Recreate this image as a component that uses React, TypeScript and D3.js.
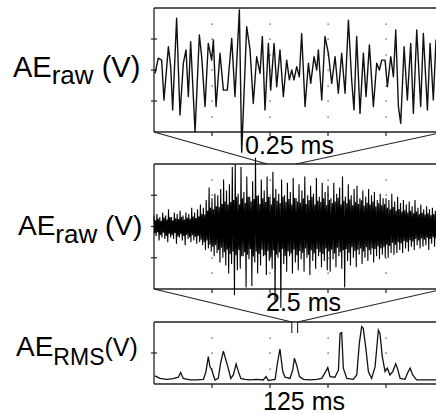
import React from 'react';
import * as d3 from 'd3';

// ---- data ----
// top panel: raw AE over 0.25 ms (time in µs)
const topTimesUs = [0.9, 3.7, 6.6, 8.6, 12.4, 14.4, 16.1, 19.5, 22.4, 25.3, 27.6, 29.6, 31.6, 35.4, 39.1, 41.1, 44.0, 46.8, 49.7, 51.2, 53.5, 56.9, 59.8, 63.2, 67.0, 69.8, 73.6, 75.6, 79.9, 82.8, 85.6, 88.5, 91.4, 93.4, 95.7, 98.6, 100.6, 103.5, 105.8, 108.6, 111.5, 114.4, 116.7, 118.7, 120.7, 123.0, 125.3, 127.3, 130.2, 133.1, 135.1, 138.0, 140.3, 141.7, 144.6, 147.4, 150.3, 153.2, 156.1, 158.9, 161.8, 164.7, 167.6, 170.4, 172.4, 174.7, 177.6, 180.5, 182.8, 185.7, 189.1, 192.0, 194.3, 196.3, 199.2, 201.2, 204.1, 206.4, 208.4, 210.7, 212.7, 215.6, 218.4, 221.3, 223.6, 226.5, 229.9, 232.2, 235.7, 238.0, 240.8, 243.1, 246.0, 249.0];
const topValues = [-0.11, 0.38, 0.32, -0.97, 0.75, 0.11, -1.29, 1.67, -1.45, 0.22, 0.65, -0.86, 0.91, -1.99, 1.13, 0.43, -1.18, 0.86, 0.32, 0.97, -1.18, 0.54, -0.65, -0.65, 1.02, -0.86, 1.94, -2.65, 1.40, 0.65, -1.08, 0.43, -0.11, 1.08, -1.29, 0.86, -0.65, 0.86, -0.54, 0.65, -0.86, 0.32, -0.32, 0.0, -0.32, 0.11, -0.22, 1.18, -1.18, 0.22, -0.43, 0.43, 0.0, 0.65, -0.97, 1.08, 0.54, -0.43, 0.43, -0.75, 0.54, -0.75, 1.61, -0.32, -1.29, 1.08, -1.40, 0.54, -0.86, 0.81, -1.18, 0.22, 0.0, 0.32, 0.32, -0.54, 0.43, -0.22, 1.29, -1.18, -1.72, 0.75, -0.97, 0.86, -1.40, 1.29, -1.18, 1.18, -1.29, 0.86, -0.97, 0.97, -0.60, 0.70];

// middle panel: raw AE over 2.5 ms, per 0.025 ms bin: outer max/min and inner swing
const midMax = [0.35, 0.40, 0.30, 0.45, 0.35, 0.55, 0.30, 0.45, 0.40, 0.50, 0.35, 0.45, 0.40, 0.60, 0.45, 0.55, 0.70, 0.60, 0.85, 1.25, 0.90, 1.05, 1.00, 1.20, 1.50, 1.15, 1.35, 1.90, 2.00, 1.05, 1.90, 1.10, 1.60, 0.95, 1.45, 2.20, 1.00, 1.50, 1.15, 1.60, 0.95, 1.75, 1.20, 1.05, 1.50, 1.00, 1.40, 1.10, 1.55, 0.90, 1.35, 1.15, 1.60, 1.00, 1.30, 1.05, 1.55, 0.95, 1.40, 1.10, 1.30, 0.90, 1.40, 1.05, 1.25, 1.60, 0.95, 1.35, 1.00, 1.20, 1.30, 0.90, 1.15, 0.95, 1.20, 1.00, 1.10, 0.85, 1.05, 0.90, 0.90, 0.85, 1.05, 0.80, 0.95, 0.75, 0.85, 0.70, 0.80, 0.65, 0.85, 0.60, 0.70, 0.55, 0.65, 0.55, 0.60, 0.50, 0.60, 0.50];
const midMin = [-0.30, -0.45, -0.35, -0.40, -0.50, -0.35, -0.40, -0.55, -0.35, -0.45, -0.60, -0.40, -0.50, -0.45, -0.55, -0.50, -0.60, -0.75, -0.70, -0.80, -0.95, -0.85, -1.15, -1.00, -1.25, -1.50, -1.20, -2.20, -1.40, -1.35, -0.95, -1.95, -1.05, -1.90, -1.15, -1.50, -1.25, -0.95, -1.55, -1.10, -1.35, -2.40, -1.00, -2.60, -1.20, -1.45, -0.95, -1.50, -1.15, -1.40, -1.05, -1.45, -1.00, -1.55, -1.10, -1.35, -0.95, -1.30, -1.10, -1.40, -1.45, -1.05, -1.30, -0.95, -1.35, -1.95, -1.10, -1.25, -1.00, -1.30, -0.90, -1.20, -1.00, -1.10, -0.90, -1.15, -0.95, -1.05, -0.90, -1.00, -1.00, -0.85, -0.90, -0.85, -0.75, -0.85, -0.70, -0.80, -0.65, -0.75, -0.60, -0.70, -0.65, -0.60, -0.75, -0.55, -0.65, -0.55, -0.60, -0.50];
const midInnerHi = [0.20, 0.25, 0.18, 0.28, 0.22, 0.30, 0.20, 0.26, 0.24, 0.30, 0.22, 0.28, 0.25, 0.32, 0.27, 0.33, 0.40, 0.38, 0.50, 0.60, 0.55, 0.65, 0.62, 0.72, 0.80, 0.70, 0.78, 0.85, 0.95, 0.70, 0.90, 0.75, 0.95, 0.80, 0.88, 0.98, 0.72, 0.90, 0.78, 0.95, 0.70, 0.92, 0.82, 0.75, 0.95, 0.78, 0.88, 0.70, 0.92, 0.80, 0.76, 0.90, 0.72, 0.85, 0.95, 0.70, 0.82, 0.78, 0.90, 0.68, 0.85, 0.75, 0.80, 0.92, 0.70, 0.82, 0.74, 0.86, 0.68, 0.78, 0.72, 0.84, 0.66, 0.76, 0.70, 0.80, 0.64, 0.74, 0.68, 0.72, 0.60, 0.55, 0.62, 0.50, 0.56, 0.48, 0.52, 0.45, 0.50, 0.42, 0.48, 0.40, 0.44, 0.38, 0.42, 0.36, 0.40, 0.34, 0.38, 0.33];
const midInnerLo = [-0.22, -0.18, -0.27, -0.20, -0.30, -0.24, -0.28, -0.21, -0.32, -0.25, -0.30, -0.26, -0.34, -0.28, -0.33, -0.30, -0.42, -0.50, -0.45, -0.58, -0.65, -0.60, -0.75, -0.68, -0.82, -0.74, -0.88, -0.80, -0.92, -0.75, -0.95, -0.82, -0.90, -0.72, -0.96, -0.80, -0.88, -0.74, -0.92, -0.78, -0.98, -0.76, -0.90, -0.82, -0.72, -0.94, -0.80, -0.86, -0.74, -0.92, -0.78, -0.84, -0.70, -0.90, -0.76, -0.86, -0.72, -0.82, -0.88, -0.70, -0.80, -0.74, -0.86, -0.68, -0.82, -0.76, -0.72, -0.84, -0.66, -0.78, -0.74, -0.70, -0.80, -0.66, -0.76, -0.70, -0.72, -0.64, -0.70, -0.66, -0.58, -0.62, -0.52, -0.58, -0.50, -0.54, -0.46, -0.50, -0.44, -0.48, -0.40, -0.45, -0.38, -0.42, -0.36, -0.40, -0.34, -0.38, -0.33, -0.35];

// bottom panel: RMS over 125 ms
const rmsTimesMs = [0.4, 2.6, 5.5, 8.3, 10.5, 11.5, 12.6, 15.5, 18.4, 21.3, 22.4, 23.4, 24.1, 24.9, 26.3, 27.7, 28.7, 29.9, 31.0, 32.0, 33.1, 34.2, 35.4, 36.4, 37.4, 39.2, 41.4, 44.3, 47.1, 48.3, 49.3, 52.2, 53.2, 54.3, 55.5, 56.5, 58.6, 59.8, 60.5, 61.5, 62.7, 64.4, 67.3, 70.1, 72.3, 74.0, 74.9, 75.9, 78.0, 79.5, 80.2, 80.9, 81.6, 83.1, 85.9, 87.4, 88.5, 89.5, 90.2, 91.4, 92.4, 93.8, 95.3, 96.7, 97.4, 98.4, 99.6, 100.6, 101.7, 102.9, 104.2, 104.9, 106.1, 108.2, 109.2, 110.4, 111.5, 113.2, 117.5, 121.6, 125.0];
const rmsValues = [0.26, 0.18, 0.15, 0.17, 0.22, 0.37, 0.18, 0.13, 0.13, 0.15, 0.40, 0.88, 0.56, 0.45, 0.13, 0.18, 0.67, 1.06, 0.77, 0.51, 0.18, 0.29, 0.65, 0.40, 0.18, 0.15, 0.13, 0.15, 0.13, 0.24, 0.11, 0.15, 0.67, 1.13, 0.40, 0.22, 0.18, 0.45, 0.83, 0.61, 0.24, 0.15, 0.13, 0.15, 0.18, 0.40, 0.53, 0.24, 0.22, 0.45, 1.63, 1.66, 0.51, 0.18, 0.15, 0.29, 1.31, 1.85, 1.80, 1.10, 0.40, 0.18, 0.56, 1.74, 1.63, 0.88, 0.40, 0.51, 0.29, 0.40, 0.65, 0.51, 0.18, 0.15, 0.34, 0.51, 0.29, 0.13, 0.13, 0.13, 0.16];

// zoom windows (start, end)
const topWindowInMidMs = [0.975, 1.225];
const midWindowInRmsMs = [59.4, 61.9];

const labelTexts = [
  { main: 'AE', sub: 'raw', unit: ' (V)' },
  { main: 'AE', sub: 'raw', unit: ' (V)' },
  { main: 'AE', sub: 'RMS', unit: '(V)' },
];
const spanTexts = ['0.25 ms', '2.5 ms', '125 ms'];

const FONT = "'Liberation Sans', Arial, Helvetica, sans-serif";

export default function App() {
  const X0 = 154, X1 = 444;
  const topP = { t: 8, b: 132 };
  const midP = { t: 164, b: 289 };
  const botP = { t: 322, b: 384 };

  const xTop = d3.scaleLinear().domain([0, 250]).range([X0, X1]);
  const xMid = d3.scaleLinear().domain([0, 2.5]).range([X0, X1]);
  const xBot = d3.scaleLinear().domain([0, 125]).range([X0, X1]);
  const yTop = d3.scaleLinear().domain([-2, 2]).range([topP.b, topP.t]);
  const yMid = d3.scaleLinear().domain([-2, 2]).range([midP.b, midP.t]);
  const yBot = d3.scaleLinear().domain([0, 2]).range([botP.b, botP.t]);

  const topLine = d3.line<number>().x((_, i) => xTop(topTimesUs[i])).y((d) => yTop(d));
  const midPts: [number, number][] = [];
  const bin = 0.025;
  midMax.forEach((mx, i) => {
    const t = i * bin;
    midPts.push([t, mx]);
    midPts.push([t + bin * 0.25, midInnerLo[i]]);
    midPts.push([t + bin * 0.5, midInnerHi[i]]);
    midPts.push([t + bin * 0.75, midMin[i]]);
  });
  const midLine = d3.line<[number, number]>().x((d) => xMid(d[0])).y((d) => yMid(d[1]));
  const botLine = d3.line<number>().x((_, i) => xBot(rmsTimesMs[i])).y((d) => yBot(d));

  const frame = (
    x: d3.ScaleLinear<number, number>,
    y: d3.ScaleLinear<number, number>,
    yTicks: number[],
    dotStep: number,
    key: string
  ) => {
    const [d0, d1] = x.domain();
    const xt = [0.2, 0.4, 0.6, 0.8].map((f) => d0 + f * (d1 - d0));
    const [y0, y1] = y.domain();
    const dots: number[] = [];
    for (let v = y0 + dotStep; v < y1 - 1e-9; v += dotStep) dots.push(v);
    const top = y(y1), bot = y(y0);
    return (
      <g key={key}>
        {xt.map((t, i) =>
          dots.map((v, j) => (
            <rect key={`d${i}-${j}`} x={Math.round(x(t)) - 0.5} y={Math.round(y(v)) - 0.5} width={1.2} height={1.2} fill="#333" />
          ))
        )}
        <line x1={X0} x2={X1 + 2} y1={top} y2={top} stroke="#222" strokeWidth={1.3} />
        <line x1={X0} x2={X1 + 2} y1={bot} y2={bot} stroke="#222" strokeWidth={1.3} />
        <line x1={X0} x2={X0} y1={top} y2={bot} stroke="#222" strokeWidth={1.3} />
        {yTicks.map((v) => (
          <line key={`yt${v}`} x1={X0 - 3} x2={X0 + 3} y1={y(v)} y2={y(v)} stroke="#222" strokeWidth={1.2} />
        ))}
        {xt.map((t) => (
          <line key={`xt${t}`} x1={x(t)} x2={x(t)} y1={bot} y2={bot + 4} stroke="#222" strokeWidth={1.2} />
        ))}
      </g>
    );
  };

  const connectors = [
    { from: topP.b, to: midP.t, xa: xMid(topWindowInMidMs[0]), xb: xMid(topWindowInMidMs[1]) },
    { from: midP.b, to: botP.t, xa: xBot(midWindowInRmsMs[0]), xb: xBot(midWindowInRmsMs[1]) },
  ];

  const labelPos = [
    { x: 13, y: 77, big: 29, sub: 26, dy: 7, unitSize: 29, unitDy: -7 },
    { x: 18, y: 235, big: 28, sub: 26, dy: 8, unitSize: 28, unitDy: -8 },
    { x: 16, y: 356, big: 28, sub: 23, dy: 9, unitSize: 25, unitDy: -9 },
  ];
  const spanPos = [
    { x: 245, y: 154 },
    { x: 266, y: 311 },
    { x: 263, y: 410 },
  ];

  return (
    <svg width={436} height={414} style={{ display: 'block', position: 'absolute', left: 0, top: 0, background: '#fff' }}>
      <rect width={436} height={414} fill="#fff" />
      {frame(xTop, yTop, [-1, 0, 1], 0.5, 'f1')}
      {frame(xMid, yMid, [-1, 0, 1], 0.5, 'f2')}
      {frame(xBot, yBot, [1], 0.5, 'f3')}

      {connectors.map((c, i) => (
        <g key={`c${i}`}>
          <line x1={X0} y1={c.from} x2={c.xa} y2={c.to} stroke="#222" strokeWidth={1.1} />
          <line x1={X1} y1={c.from} x2={c.xb} y2={c.to} stroke="#222" strokeWidth={1.1} />
        </g>
      ))}

      <path d={topLine(topValues) || ''} fill="none" stroke="#111" strokeWidth={1.4} strokeLinejoin="round" />
      <path d={midLine(midPts) || ''} fill="none" stroke="#000" strokeWidth={1.1} />
      <path d={botLine(rmsValues) || ''} fill="none" stroke="#111" strokeWidth={1.3} />

      {midWindowInRmsMs.map((t) => (
        <line key={`m${t}`} x1={xBot(t)} x2={xBot(t)} y1={botP.t} y2={botP.t + 11} stroke="#222" strokeWidth={1.1} />
      ))}

      {labelTexts.map((l, i) => {
        const p = labelPos[i];
        return (
          <text key={`l${i}`} x={p.x} y={p.y} fontFamily={FONT} fontSize={p.big} fill="#000">
            {l.main}
            <tspan fontSize={p.sub} dy={p.dy}>{l.sub}</tspan>
            <tspan fontSize={p.unitSize} dy={p.unitDy}>{l.unit}</tspan>
          </text>
        );
      })}

      {spanTexts.map((s, i) => (
        <text key={`s${i}`} x={spanPos[i].x} y={spanPos[i].y} fontFamily={FONT} fontSize={25} fill="#000">
          {s}
        </text>
      ))}
    </svg>
  );
}
